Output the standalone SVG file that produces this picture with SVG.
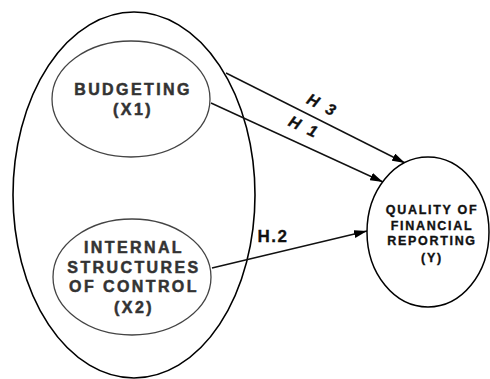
<svg xmlns="http://www.w3.org/2000/svg" width="490" height="379" viewBox="0 0 490 379">
<style>
.outer{fill:none;stroke:#000;stroke-width:1.6}
.inner{fill:#fff;stroke:#444;stroke-width:1.3}
.yel{fill:#fff;stroke:#000;stroke-width:1.5}
.t{font-family:"Liberation Sans",Arial,sans-serif;font-weight:bold;text-anchor:middle;fill:#333;stroke:#333;stroke-width:0.5}
.big{font-size:16px;letter-spacing:2.4px}
.sm{font-size:12.5px;letter-spacing:1.7px;fill:#111;stroke:#111;stroke-width:0.35}
.h{font-family:"Liberation Sans",Arial,sans-serif;font-weight:bold;font-size:16px;fill:#111;text-anchor:middle;stroke:#111;stroke-width:0.3}
.h2{font-size:17px;letter-spacing:1.5px}
.c{stroke:#111;stroke-width:1.4;fill:none}
</style>
<defs>
<marker id="ah" viewBox="0 0 13 8" refX="13" refY="4" markerWidth="13" markerHeight="8" markerUnits="userSpaceOnUse" orient="auto">
<path d="M0,0 L13,4 L0,8 Z" fill="#000"/>
</marker>
</defs>
<rect width="490" height="379" fill="#fff"/>
<g id="group-x">
<ellipse class="outer" cx="134" cy="195" rx="121" ry="183"/>
</g>
<g id="connectors">
<line class="c" x1="226" y1="73" x2="405" y2="163" marker-end="url(#ah)"/>
<line class="c" x1="211" y1="103" x2="383" y2="182" marker-end="url(#ah)"/>
<line class="c" x1="212" y1="268" x2="367" y2="231" marker-end="url(#ah)"/>
<text class="h" font-style="italic" letter-spacing="2.5" transform="translate(320,110) rotate(27)">H 3</text>
<text class="h" font-style="italic" letter-spacing="2.5" transform="translate(302,132) rotate(25)">H 1</text>
<text class="h h2" x="273" y="242">H.2</text>
</g>
<g id="x1">
<ellipse class="inner" cx="131" cy="99" rx="79" ry="58"/>
<text class="t big" x="133" y="95">BUDGETING</text>
<text class="t big" x="133" y="115">(X1)</text>
</g>
<g id="x2">
<ellipse class="inner" cx="132" cy="277" rx="79" ry="58"/>
<text class="t big" x="134" y="253">INTERNAL</text>
<text class="t big" x="134" y="273">STRUCTURES</text>
<text class="t big" x="134" y="292">OF CONTROL</text>
<text class="t big" x="134" y="313">(X2)</text>
</g>
<g id="y">
<ellipse class="yel" cx="428" cy="232" rx="61" ry="75"/>
<text class="t sm" x="432" y="214">QUALITY OF</text>
<text class="t sm" x="432" y="230">FINANCIAL</text>
<text class="t sm" x="432" y="245">REPORTING</text>
<text class="t sm" x="432" y="262">(Y)</text>
</g>
</svg>
